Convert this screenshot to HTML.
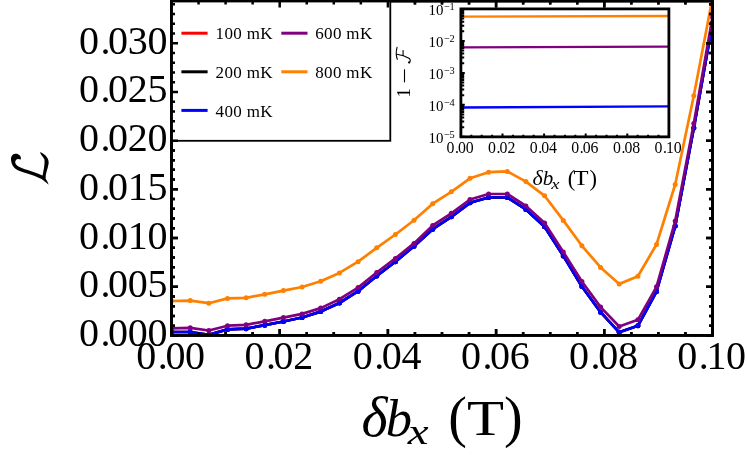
<!DOCTYPE html>
<html><head><meta charset="utf-8"><title>chart</title>
<style>
html,body{margin:0;padding:0;background:#fff;}
body{width:747px;height:459px;overflow:hidden;position:relative;font-family:"Liberation Serif",serif;}
.s{font-family:"Liberation Serif",serif;fill:#000;}
</style></head><body>
<svg width="747" height="459" viewBox="0 0 747 459" style="position:absolute;left:0;top:0;will-change:transform">
<defs><clipPath id="cp"><rect x="171.5" y="1.0" width="541.0" height="334.4"/></clipPath></defs>
<g clip-path="url(#cp)">
<polyline points="171.5,332.0 190.2,332.0 208.8,334.8 227.5,329.4 246.1,328.7 264.8,325.2 283.4,321.5 302.1,317.5 320.7,311.6 339.4,303.0 358.1,291.2 376.7,276.0 395.4,261.7 414.0,246.2 432.7,229.2 451.3,216.8 470.0,202.8 488.6,197.5 507.3,197.5 525.9,209.4 544.6,226.7 563.3,255.9 581.9,286.5 600.6,312.2 619.2,332.3 637.9,325.8 656.5,291.5 675.2,226.1 693.8,128.0 712.5,23.0" fill="none" stroke="#ff0000" stroke-width="2.7" stroke-linejoin="round"/><circle cx="171.5" cy="332.0" r="2.5" fill="#ff0000"/><circle cx="190.2" cy="332.0" r="2.5" fill="#ff0000"/><circle cx="208.8" cy="334.8" r="2.5" fill="#ff0000"/><circle cx="227.5" cy="329.4" r="2.5" fill="#ff0000"/><circle cx="246.1" cy="328.7" r="2.5" fill="#ff0000"/><circle cx="264.8" cy="325.2" r="2.5" fill="#ff0000"/><circle cx="283.4" cy="321.5" r="2.5" fill="#ff0000"/><circle cx="302.1" cy="317.5" r="2.5" fill="#ff0000"/><circle cx="320.7" cy="311.6" r="2.5" fill="#ff0000"/><circle cx="339.4" cy="303.0" r="2.5" fill="#ff0000"/><circle cx="358.1" cy="291.2" r="2.5" fill="#ff0000"/><circle cx="376.7" cy="276.0" r="2.5" fill="#ff0000"/><circle cx="395.4" cy="261.7" r="2.5" fill="#ff0000"/><circle cx="414.0" cy="246.2" r="2.5" fill="#ff0000"/><circle cx="432.7" cy="229.2" r="2.5" fill="#ff0000"/><circle cx="451.3" cy="216.8" r="2.5" fill="#ff0000"/><circle cx="470.0" cy="202.8" r="2.5" fill="#ff0000"/><circle cx="488.6" cy="197.5" r="2.5" fill="#ff0000"/><circle cx="507.3" cy="197.5" r="2.5" fill="#ff0000"/><circle cx="525.9" cy="209.4" r="2.5" fill="#ff0000"/><circle cx="544.6" cy="226.7" r="2.5" fill="#ff0000"/><circle cx="563.3" cy="255.9" r="2.5" fill="#ff0000"/><circle cx="581.9" cy="286.5" r="2.5" fill="#ff0000"/><circle cx="600.6" cy="312.2" r="2.5" fill="#ff0000"/><circle cx="619.2" cy="332.3" r="2.5" fill="#ff0000"/><circle cx="637.9" cy="325.8" r="2.5" fill="#ff0000"/><circle cx="656.5" cy="291.5" r="2.5" fill="#ff0000"/><circle cx="675.2" cy="226.1" r="2.5" fill="#ff0000"/><circle cx="693.8" cy="128.0" r="2.5" fill="#ff0000"/><circle cx="712.5" cy="23.0" r="2.5" fill="#ff0000"/>
<polyline points="171.5,332.0 190.2,332.0 208.8,334.8 227.5,329.4 246.1,328.7 264.8,325.2 283.4,321.5 302.1,317.5 320.7,311.6 339.4,303.0 358.1,291.2 376.7,276.0 395.4,261.7 414.0,246.2 432.7,229.2 451.3,216.8 470.0,202.8 488.6,197.5 507.3,197.5 525.9,209.4 544.6,226.7 563.3,255.9 581.9,286.5 600.6,312.2 619.2,332.3 637.9,325.8 656.5,291.5 675.2,226.1 693.8,128.0 712.5,23.0" fill="none" stroke="#000000" stroke-width="2.7" stroke-linejoin="round"/><circle cx="171.5" cy="332.0" r="2.5" fill="#000000"/><circle cx="190.2" cy="332.0" r="2.5" fill="#000000"/><circle cx="208.8" cy="334.8" r="2.5" fill="#000000"/><circle cx="227.5" cy="329.4" r="2.5" fill="#000000"/><circle cx="246.1" cy="328.7" r="2.5" fill="#000000"/><circle cx="264.8" cy="325.2" r="2.5" fill="#000000"/><circle cx="283.4" cy="321.5" r="2.5" fill="#000000"/><circle cx="302.1" cy="317.5" r="2.5" fill="#000000"/><circle cx="320.7" cy="311.6" r="2.5" fill="#000000"/><circle cx="339.4" cy="303.0" r="2.5" fill="#000000"/><circle cx="358.1" cy="291.2" r="2.5" fill="#000000"/><circle cx="376.7" cy="276.0" r="2.5" fill="#000000"/><circle cx="395.4" cy="261.7" r="2.5" fill="#000000"/><circle cx="414.0" cy="246.2" r="2.5" fill="#000000"/><circle cx="432.7" cy="229.2" r="2.5" fill="#000000"/><circle cx="451.3" cy="216.8" r="2.5" fill="#000000"/><circle cx="470.0" cy="202.8" r="2.5" fill="#000000"/><circle cx="488.6" cy="197.5" r="2.5" fill="#000000"/><circle cx="507.3" cy="197.5" r="2.5" fill="#000000"/><circle cx="525.9" cy="209.4" r="2.5" fill="#000000"/><circle cx="544.6" cy="226.7" r="2.5" fill="#000000"/><circle cx="563.3" cy="255.9" r="2.5" fill="#000000"/><circle cx="581.9" cy="286.5" r="2.5" fill="#000000"/><circle cx="600.6" cy="312.2" r="2.5" fill="#000000"/><circle cx="619.2" cy="332.3" r="2.5" fill="#000000"/><circle cx="637.9" cy="325.8" r="2.5" fill="#000000"/><circle cx="656.5" cy="291.5" r="2.5" fill="#000000"/><circle cx="675.2" cy="226.1" r="2.5" fill="#000000"/><circle cx="693.8" cy="128.0" r="2.5" fill="#000000"/><circle cx="712.5" cy="23.0" r="2.5" fill="#000000"/>
<polyline points="171.5,332.0 190.2,332.0 208.8,334.8 227.5,329.4 246.1,328.7 264.8,325.2 283.4,321.5 302.1,317.5 320.7,311.6 339.4,303.0 358.1,291.2 376.7,276.0 395.4,261.7 414.0,246.2 432.7,229.2 451.3,216.8 470.0,202.8 488.6,197.5 507.3,197.5 525.9,209.4 544.6,226.7 563.3,255.9 581.9,286.5 600.6,312.2 619.2,332.3 637.9,325.8 656.5,291.5 675.2,226.1 693.8,128.0 712.5,23.0" fill="none" stroke="#0000ff" stroke-width="2.7" stroke-linejoin="round"/><circle cx="171.5" cy="332.0" r="2.5" fill="#0000ff"/><circle cx="190.2" cy="332.0" r="2.5" fill="#0000ff"/><circle cx="208.8" cy="334.8" r="2.5" fill="#0000ff"/><circle cx="227.5" cy="329.4" r="2.5" fill="#0000ff"/><circle cx="246.1" cy="328.7" r="2.5" fill="#0000ff"/><circle cx="264.8" cy="325.2" r="2.5" fill="#0000ff"/><circle cx="283.4" cy="321.5" r="2.5" fill="#0000ff"/><circle cx="302.1" cy="317.5" r="2.5" fill="#0000ff"/><circle cx="320.7" cy="311.6" r="2.5" fill="#0000ff"/><circle cx="339.4" cy="303.0" r="2.5" fill="#0000ff"/><circle cx="358.1" cy="291.2" r="2.5" fill="#0000ff"/><circle cx="376.7" cy="276.0" r="2.5" fill="#0000ff"/><circle cx="395.4" cy="261.7" r="2.5" fill="#0000ff"/><circle cx="414.0" cy="246.2" r="2.5" fill="#0000ff"/><circle cx="432.7" cy="229.2" r="2.5" fill="#0000ff"/><circle cx="451.3" cy="216.8" r="2.5" fill="#0000ff"/><circle cx="470.0" cy="202.8" r="2.5" fill="#0000ff"/><circle cx="488.6" cy="197.5" r="2.5" fill="#0000ff"/><circle cx="507.3" cy="197.5" r="2.5" fill="#0000ff"/><circle cx="525.9" cy="209.4" r="2.5" fill="#0000ff"/><circle cx="544.6" cy="226.7" r="2.5" fill="#0000ff"/><circle cx="563.3" cy="255.9" r="2.5" fill="#0000ff"/><circle cx="581.9" cy="286.5" r="2.5" fill="#0000ff"/><circle cx="600.6" cy="312.2" r="2.5" fill="#0000ff"/><circle cx="619.2" cy="332.3" r="2.5" fill="#0000ff"/><circle cx="637.9" cy="325.8" r="2.5" fill="#0000ff"/><circle cx="656.5" cy="291.5" r="2.5" fill="#0000ff"/><circle cx="675.2" cy="226.1" r="2.5" fill="#0000ff"/><circle cx="693.8" cy="128.0" r="2.5" fill="#0000ff"/><circle cx="712.5" cy="23.0" r="2.5" fill="#0000ff"/>
<polyline points="171.5,328.3 190.2,327.8 208.8,330.5 227.5,325.7 246.1,324.8 264.8,321.3 283.4,317.6 302.1,313.9 320.7,308.1 339.4,299.2 358.1,287.6 376.7,272.5 395.4,258.4 414.0,243.4 432.7,225.5 451.3,213.3 470.0,199.5 488.6,194.0 507.3,194.0 525.9,206.0 544.6,223.0 563.3,252.0 581.9,281.5 600.6,307.1 619.2,326.5 637.9,319.8 656.5,286.8 675.2,221.1 693.8,123.6 712.5,17.0" fill="none" stroke="#800080" stroke-width="2.7" stroke-linejoin="round"/><circle cx="171.5" cy="328.3" r="2.5" fill="#800080"/><circle cx="190.2" cy="327.8" r="2.5" fill="#800080"/><circle cx="208.8" cy="330.5" r="2.5" fill="#800080"/><circle cx="227.5" cy="325.7" r="2.5" fill="#800080"/><circle cx="246.1" cy="324.8" r="2.5" fill="#800080"/><circle cx="264.8" cy="321.3" r="2.5" fill="#800080"/><circle cx="283.4" cy="317.6" r="2.5" fill="#800080"/><circle cx="302.1" cy="313.9" r="2.5" fill="#800080"/><circle cx="320.7" cy="308.1" r="2.5" fill="#800080"/><circle cx="339.4" cy="299.2" r="2.5" fill="#800080"/><circle cx="358.1" cy="287.6" r="2.5" fill="#800080"/><circle cx="376.7" cy="272.5" r="2.5" fill="#800080"/><circle cx="395.4" cy="258.4" r="2.5" fill="#800080"/><circle cx="414.0" cy="243.4" r="2.5" fill="#800080"/><circle cx="432.7" cy="225.5" r="2.5" fill="#800080"/><circle cx="451.3" cy="213.3" r="2.5" fill="#800080"/><circle cx="470.0" cy="199.5" r="2.5" fill="#800080"/><circle cx="488.6" cy="194.0" r="2.5" fill="#800080"/><circle cx="507.3" cy="194.0" r="2.5" fill="#800080"/><circle cx="525.9" cy="206.0" r="2.5" fill="#800080"/><circle cx="544.6" cy="223.0" r="2.5" fill="#800080"/><circle cx="563.3" cy="252.0" r="2.5" fill="#800080"/><circle cx="581.9" cy="281.5" r="2.5" fill="#800080"/><circle cx="600.6" cy="307.1" r="2.5" fill="#800080"/><circle cx="619.2" cy="326.5" r="2.5" fill="#800080"/><circle cx="637.9" cy="319.8" r="2.5" fill="#800080"/><circle cx="656.5" cy="286.8" r="2.5" fill="#800080"/><circle cx="675.2" cy="221.1" r="2.5" fill="#800080"/><circle cx="693.8" cy="123.6" r="2.5" fill="#800080"/><circle cx="712.5" cy="17.0" r="2.5" fill="#800080"/>
<polyline points="171.5,301.0 190.2,300.6 208.8,303.2 227.5,298.4 246.1,297.8 264.8,294.3 283.4,290.6 302.1,287.0 320.7,281.3 339.4,272.9 358.1,261.7 376.7,247.8 395.4,234.5 414.0,220.3 432.7,203.7 451.3,191.8 470.0,178.3 488.6,172.2 507.3,171.4 525.9,181.6 544.6,195.8 563.3,220.4 581.9,245.8 600.6,267.4 619.2,284.1 637.9,276.2 656.5,244.5 675.2,184.5 693.8,95.7 712.5,-2.0" fill="none" stroke="#ff8000" stroke-width="2.7" stroke-linejoin="round"/><circle cx="171.5" cy="301.0" r="2.5" fill="#ff8000"/><circle cx="190.2" cy="300.6" r="2.5" fill="#ff8000"/><circle cx="208.8" cy="303.2" r="2.5" fill="#ff8000"/><circle cx="227.5" cy="298.4" r="2.5" fill="#ff8000"/><circle cx="246.1" cy="297.8" r="2.5" fill="#ff8000"/><circle cx="264.8" cy="294.3" r="2.5" fill="#ff8000"/><circle cx="283.4" cy="290.6" r="2.5" fill="#ff8000"/><circle cx="302.1" cy="287.0" r="2.5" fill="#ff8000"/><circle cx="320.7" cy="281.3" r="2.5" fill="#ff8000"/><circle cx="339.4" cy="272.9" r="2.5" fill="#ff8000"/><circle cx="358.1" cy="261.7" r="2.5" fill="#ff8000"/><circle cx="376.7" cy="247.8" r="2.5" fill="#ff8000"/><circle cx="395.4" cy="234.5" r="2.5" fill="#ff8000"/><circle cx="414.0" cy="220.3" r="2.5" fill="#ff8000"/><circle cx="432.7" cy="203.7" r="2.5" fill="#ff8000"/><circle cx="451.3" cy="191.8" r="2.5" fill="#ff8000"/><circle cx="470.0" cy="178.3" r="2.5" fill="#ff8000"/><circle cx="488.6" cy="172.2" r="2.5" fill="#ff8000"/><circle cx="507.3" cy="171.4" r="2.5" fill="#ff8000"/><circle cx="525.9" cy="181.6" r="2.5" fill="#ff8000"/><circle cx="544.6" cy="195.8" r="2.5" fill="#ff8000"/><circle cx="563.3" cy="220.4" r="2.5" fill="#ff8000"/><circle cx="581.9" cy="245.8" r="2.5" fill="#ff8000"/><circle cx="600.6" cy="267.4" r="2.5" fill="#ff8000"/><circle cx="619.2" cy="284.1" r="2.5" fill="#ff8000"/><circle cx="637.9" cy="276.2" r="2.5" fill="#ff8000"/><circle cx="656.5" cy="244.5" r="2.5" fill="#ff8000"/><circle cx="675.2" cy="184.5" r="2.5" fill="#ff8000"/><circle cx="693.8" cy="95.7" r="2.5" fill="#ff8000"/><circle cx="712.5" cy="-2.0" r="2.5" fill="#ff8000"/>
</g>
<path d="M171.5 335.40h6.5 M712.5 335.40h-6.5 M171.5 325.66h3.5 M712.5 325.66h-3.5 M171.5 315.93h3.5 M712.5 315.93h-3.5 M171.5 306.19h3.5 M712.5 306.19h-3.5 M171.5 296.45h3.5 M712.5 296.45h-3.5 M171.5 286.71h6.5 M712.5 286.71h-6.5 M171.5 276.98h3.5 M712.5 276.98h-3.5 M171.5 267.24h3.5 M712.5 267.24h-3.5 M171.5 257.50h3.5 M712.5 257.50h-3.5 M171.5 247.77h3.5 M712.5 247.77h-3.5 M171.5 238.03h6.5 M712.5 238.03h-6.5 M171.5 228.29h3.5 M712.5 228.29h-3.5 M171.5 218.56h3.5 M712.5 218.56h-3.5 M171.5 208.82h3.5 M712.5 208.82h-3.5 M171.5 199.08h3.5 M712.5 199.08h-3.5 M171.5 189.34h6.5 M712.5 189.34h-6.5 M171.5 179.61h3.5 M712.5 179.61h-3.5 M171.5 169.87h3.5 M712.5 169.87h-3.5 M171.5 160.13h3.5 M712.5 160.13h-3.5 M171.5 150.40h3.5 M712.5 150.40h-3.5 M171.5 140.66h6.5 M712.5 140.66h-6.5 M171.5 130.92h3.5 M712.5 130.92h-3.5 M171.5 121.19h3.5 M712.5 121.19h-3.5 M171.5 111.45h3.5 M712.5 111.45h-3.5 M171.5 101.71h3.5 M712.5 101.71h-3.5 M171.5 91.97h6.5 M712.5 91.97h-6.5 M171.5 82.24h3.5 M712.5 82.24h-3.5 M171.5 72.50h3.5 M712.5 72.50h-3.5 M171.5 62.76h3.5 M712.5 62.76h-3.5 M171.5 53.03h3.5 M712.5 53.03h-3.5 M171.5 43.29h6.5 M712.5 43.29h-6.5 M171.5 33.55h3.5 M712.5 33.55h-3.5 M171.5 23.82h3.5 M712.5 23.82h-3.5 M171.5 14.08h3.5 M712.5 14.08h-3.5 M171.5 4.34h3.5 M712.5 4.34h-3.5 M171.50 335.4v-6.5 M171.50 1.0v6.5 M198.55 335.4v-3.5 M198.55 1.0v3.5 M225.60 335.4v-3.5 M225.60 1.0v3.5 M252.65 335.4v-3.5 M252.65 1.0v3.5 M279.70 335.4v-6.5 M279.70 1.0v6.5 M306.75 335.4v-3.5 M306.75 1.0v3.5 M333.80 335.4v-3.5 M333.80 1.0v3.5 M360.85 335.4v-3.5 M360.85 1.0v3.5 M387.90 335.4v-6.5 M387.90 1.0v6.5 M414.95 335.4v-3.5 M414.95 1.0v3.5 M442.00 335.4v-3.5 M442.00 1.0v3.5 M469.05 335.4v-3.5 M469.05 1.0v3.5 M496.10 335.4v-6.5 M496.10 1.0v6.5 M523.15 335.4v-3.5 M523.15 1.0v3.5 M550.20 335.4v-3.5 M550.20 1.0v3.5 M577.25 335.4v-3.5 M577.25 1.0v3.5 M604.30 335.4v-6.5 M604.30 1.0v6.5 M631.35 335.4v-3.5 M631.35 1.0v3.5 M658.40 335.4v-3.5 M658.40 1.0v3.5 M685.45 335.4v-3.5 M685.45 1.0v3.5 M712.50 335.4v-6.5 M712.50 1.0v6.5" stroke="#000" stroke-width="2.5" fill="none"/>
<rect x="171.5" y="1.0" width="541.0" height="334.4" fill="none" stroke="#000" stroke-width="2.8"/>
<text transform="translate(78.90,345.90) scale(1.0,1)" x="0.00 21.50 29.10 48.80 68.50" y="0" font-size="40" class="s">0.000</text>
<text transform="translate(78.90,297.21) scale(1.0,1)" x="0.00 21.50 29.10 48.80 68.50" y="0" font-size="40" class="s">0.005</text>
<text transform="translate(78.90,248.53) scale(1.0,1)" x="0.00 21.50 29.10 48.80 68.50" y="0" font-size="40" class="s">0.010</text>
<text transform="translate(78.90,199.84) scale(1.0,1)" x="0.00 21.50 29.10 48.80 68.50" y="0" font-size="40" class="s">0.015</text>
<text transform="translate(78.90,151.16) scale(1.0,1)" x="0.00 21.50 29.10 48.80 68.50" y="0" font-size="40" class="s">0.020</text>
<text transform="translate(78.90,102.47) scale(1.0,1)" x="0.00 21.50 29.10 48.80 68.50" y="0" font-size="40" class="s">0.025</text>
<text transform="translate(78.90,53.79) scale(1.0,1)" x="0.00 21.50 29.10 48.80 68.50" y="0" font-size="40" class="s">0.030</text>
<text transform="translate(136.30,369.30) scale(1.0,1)" x="0.00 21.50 29.10 48.80" y="0" font-size="40" class="s">0.00</text>
<text transform="translate(244.50,369.30) scale(1.0,1)" x="0.00 21.50 29.10 48.80" y="0" font-size="40" class="s">0.02</text>
<text transform="translate(352.70,369.30) scale(1.0,1)" x="0.00 21.50 29.10 48.80" y="0" font-size="40" class="s">0.04</text>
<text transform="translate(460.90,369.30) scale(1.0,1)" x="0.00 21.50 29.10 48.80" y="0" font-size="40" class="s">0.06</text>
<text transform="translate(569.10,369.30) scale(1.0,1)" x="0.00 21.50 29.10 48.80" y="0" font-size="40" class="s">0.08</text>
<text transform="translate(677.30,369.30) scale(1.0,1)" x="0.00 21.50 29.10 48.80" y="0" font-size="40" class="s">0.10</text>
<rect x="171.5" y="1.0" width="218.8" height="139.8" fill="#fff" stroke="#000" stroke-width="1.8"/>
<line x1="181.4" y1="33.2" x2="207.6" y2="33.2" stroke="#ff0000" stroke-width="3"/>
<text x="215.6" y="39.4" font-size="17" class="s" textLength="57" lengthAdjust="spacing">100 mK</text>
<line x1="181.4" y1="71.80000000000001" x2="207.6" y2="71.80000000000001" stroke="#000" stroke-width="3"/>
<text x="215.6" y="78.0" font-size="17" class="s" textLength="57" lengthAdjust="spacing">200 mK</text>
<line x1="181.4" y1="110.4" x2="207.6" y2="110.4" stroke="#0000ff" stroke-width="3"/>
<text x="215.6" y="116.6" font-size="17" class="s" textLength="57" lengthAdjust="spacing">400 mK</text>
<line x1="281.3" y1="33.2" x2="307.5" y2="33.2" stroke="#800080" stroke-width="3"/>
<text x="315.2" y="39.4" font-size="17" class="s" textLength="57" lengthAdjust="spacing">600 mK</text>
<line x1="281.3" y1="71.80000000000001" x2="307.5" y2="71.80000000000001" stroke="#ff8000" stroke-width="3"/>
<text x="315.2" y="78.0" font-size="17" class="s" textLength="57" lengthAdjust="spacing">800 mK</text>
<path d="M171.5 335.40h6.5 M712.5 335.40h-6.5 M171.5 325.66h3.5 M712.5 325.66h-3.5 M171.5 315.93h3.5 M712.5 315.93h-3.5 M171.5 306.19h3.5 M712.5 306.19h-3.5 M171.5 296.45h3.5 M712.5 296.45h-3.5 M171.5 286.71h6.5 M712.5 286.71h-6.5 M171.5 276.98h3.5 M712.5 276.98h-3.5 M171.5 267.24h3.5 M712.5 267.24h-3.5 M171.5 257.50h3.5 M712.5 257.50h-3.5 M171.5 247.77h3.5 M712.5 247.77h-3.5 M171.5 238.03h6.5 M712.5 238.03h-6.5 M171.5 228.29h3.5 M712.5 228.29h-3.5 M171.5 218.56h3.5 M712.5 218.56h-3.5 M171.5 208.82h3.5 M712.5 208.82h-3.5 M171.5 199.08h3.5 M712.5 199.08h-3.5 M171.5 189.34h6.5 M712.5 189.34h-6.5 M171.5 179.61h3.5 M712.5 179.61h-3.5 M171.5 169.87h3.5 M712.5 169.87h-3.5 M171.5 160.13h3.5 M712.5 160.13h-3.5 M171.5 150.40h3.5 M712.5 150.40h-3.5 M171.5 140.66h6.5 M712.5 140.66h-6.5 M171.5 130.92h3.5 M712.5 130.92h-3.5 M171.5 121.19h3.5 M712.5 121.19h-3.5 M171.5 111.45h3.5 M712.5 111.45h-3.5 M171.5 101.71h3.5 M712.5 101.71h-3.5 M171.5 91.97h6.5 M712.5 91.97h-6.5 M171.5 82.24h3.5 M712.5 82.24h-3.5 M171.5 72.50h3.5 M712.5 72.50h-3.5 M171.5 62.76h3.5 M712.5 62.76h-3.5 M171.5 53.03h3.5 M712.5 53.03h-3.5 M171.5 43.29h6.5 M712.5 43.29h-6.5 M171.5 33.55h3.5 M712.5 33.55h-3.5 M171.5 23.82h3.5 M712.5 23.82h-3.5 M171.5 14.08h3.5 M712.5 14.08h-3.5 M171.5 4.34h3.5 M712.5 4.34h-3.5 M171.50 335.4v-6.5 M171.50 1.0v6.5 M198.55 335.4v-3.5 M198.55 1.0v3.5 M225.60 335.4v-3.5 M225.60 1.0v3.5 M252.65 335.4v-3.5 M252.65 1.0v3.5 M279.70 335.4v-6.5 M279.70 1.0v6.5 M306.75 335.4v-3.5 M306.75 1.0v3.5 M333.80 335.4v-3.5 M333.80 1.0v3.5 M360.85 335.4v-3.5 M360.85 1.0v3.5 M387.90 335.4v-6.5 M387.90 1.0v6.5 M414.95 335.4v-3.5 M414.95 1.0v3.5 M442.00 335.4v-3.5 M442.00 1.0v3.5 M469.05 335.4v-3.5 M469.05 1.0v3.5 M496.10 335.4v-6.5 M496.10 1.0v6.5 M523.15 335.4v-3.5 M523.15 1.0v3.5 M550.20 335.4v-3.5 M550.20 1.0v3.5 M577.25 335.4v-3.5 M577.25 1.0v3.5 M604.30 335.4v-6.5 M604.30 1.0v6.5 M631.35 335.4v-3.5 M631.35 1.0v3.5 M658.40 335.4v-3.5 M658.40 1.0v3.5 M685.45 335.4v-3.5 M685.45 1.0v3.5 M712.50 335.4v-6.5 M712.50 1.0v6.5" stroke="#000" stroke-width="2.5" fill="none"/>
<rect x="171.5" y="1.0" width="541.0" height="334.4" fill="none" stroke="#000" stroke-width="2.8"/>
<rect x="460.9" y="8.9" width="208.0" height="127.94999999999999" fill="#fff" stroke="none"/>
<line x1="460.9" y1="16.6" x2="668.9" y2="16.0" stroke="#ff8000" stroke-width="2.4"/>
<line x1="460.9" y1="47.4" x2="668.9" y2="46.6" stroke="#800080" stroke-width="2.4"/>
<line x1="460.9" y1="107.5" x2="668.9" y2="106.4" stroke="#0000ff" stroke-width="2.4"/>
<path d="M460.9 40.89h3.9 M460.9 31.26h3.3 M460.9 25.63h3.3 M460.9 21.63h3.3 M460.9 18.53h3.3 M460.9 16.00h3.3 M460.9 13.85h3.3 M460.9 12.00h3.3 M460.9 10.36h3.3 M460.9 72.88h3.9 M460.9 63.25h3.3 M460.9 57.61h3.3 M460.9 53.62h3.3 M460.9 50.52h3.3 M460.9 47.98h3.3 M460.9 45.84h3.3 M460.9 43.99h3.3 M460.9 42.35h3.3 M460.9 104.86h3.9 M460.9 95.23h3.3 M460.9 89.60h3.3 M460.9 85.60h3.3 M460.9 82.50h3.3 M460.9 79.97h3.3 M460.9 77.83h3.3 M460.9 75.97h3.3 M460.9 74.34h3.3 M460.9 136.85h3.9 M460.9 127.22h3.3 M460.9 121.59h3.3 M460.9 117.59h3.3 M460.9 114.49h3.3 M460.9 111.96h3.3 M460.9 109.82h3.3 M460.9 107.96h3.3 M460.9 106.33h3.3 M460.90 136.85v-3.3 M471.30 136.85v-2.2 M481.70 136.85v-2.2 M492.10 136.85v-2.2 M502.50 136.85v-3.3 M512.90 136.85v-2.2 M523.30 136.85v-2.2 M533.70 136.85v-2.2 M544.10 136.85v-3.3 M554.50 136.85v-2.2 M564.90 136.85v-2.2 M575.30 136.85v-2.2 M585.70 136.85v-3.3 M596.10 136.85v-2.2 M606.50 136.85v-2.2 M616.90 136.85v-2.2 M627.30 136.85v-3.3 M637.70 136.85v-2.2 M648.10 136.85v-2.2 M658.50 136.85v-2.2 M668.90 136.85v-3.3" stroke="#000" stroke-width="2.0" fill="none"/>
<rect x="460.9" y="8.9" width="208.0" height="127.94999999999999" fill="none" stroke="#000" stroke-width="2.8"/>
<text transform="translate(428.6,15.3) scale(0.96,1)" font-size="15.5" class="s">10<tspan dy="-5.5" dx="0.3" font-size="10.8">−1</tspan></text>
<text transform="translate(428.6,47.3) scale(0.96,1)" font-size="15.5" class="s">10<tspan dy="-5.5" dx="0.3" font-size="10.8">−2</tspan></text>
<text transform="translate(428.6,79.3) scale(0.96,1)" font-size="15.5" class="s">10<tspan dy="-5.5" dx="0.3" font-size="10.8">−3</tspan></text>
<text transform="translate(428.6,111.3) scale(0.96,1)" font-size="15.5" class="s">10<tspan dy="-5.5" dx="0.3" font-size="10.8">−4</tspan></text>
<text transform="translate(428.6,143.2) scale(0.96,1)" font-size="15.5" class="s">10<tspan dy="-5.5" dx="0.3" font-size="10.8">−5</tspan></text>
<text transform="translate(446.50,153.20) scale(1.0,1)" x="0.00 8.51 11.52 19.32" y="0" font-size="15.8" class="s">0.00</text>
<text transform="translate(488.10,153.20) scale(1.0,1)" x="0.00 8.51 11.52 19.32" y="0" font-size="15.8" class="s">0.02</text>
<text transform="translate(529.70,153.20) scale(1.0,1)" x="0.00 8.51 11.52 19.32" y="0" font-size="15.8" class="s">0.04</text>
<text transform="translate(571.30,153.20) scale(1.0,1)" x="0.00 8.51 11.52 19.32" y="0" font-size="15.8" class="s">0.06</text>
<text transform="translate(612.90,153.20) scale(1.0,1)" x="0.00 8.51 11.52 19.32" y="0" font-size="15.8" class="s">0.08</text>
<text transform="translate(654.50,153.20) scale(1.0,1)" x="0.00 8.51 11.52 19.32" y="0" font-size="15.8" class="s">0.10</text>
<text transform="translate(532.50,184.50) scale(1.0,1)" font-size="22" class="s" font-style="italic">δ</text>
<text transform="translate(542.70,184.50) scale(1.0,1)" font-size="21" class="s" font-style="italic">b</text>
<text transform="translate(551.20,189.00) scale(1.28,1)" font-size="14.5" class="s" font-style="italic">x</text>
<text transform="translate(567.80,185.70) scale(1.0,1)" font-size="22.5" class="s">(</text>
<text transform="translate(573.60,184.70) scale(1.2,1)" font-size="20.5" class="s">T</text>
<text transform="translate(589.40,185.70) scale(1.0,1)" font-size="22.5" class="s">)</text>
<text transform="translate(409.6,97.6) rotate(-90)" font-size="18.5" class="s">1</text>
<line x1="404.5" y1="69.3" x2="404.5" y2="82.4" stroke="#000" stroke-width="1.1"/>
<g transform="translate(390,40) scale(0.06536)" fill="none" stroke="#000" stroke-width="17" stroke-linecap="round"><path d="M108 112 C92 170 92 240 112 296"/><path d="M105 218 C170 228 240 250 290 280 C315 298 318 325 295 345"/><path d="M200 162 L200 238"/><circle cx="293" cy="343" r="8" fill="#000"/></g>
<text transform="translate(361.50,435.50) scale(1.0,1)" font-size="56" class="s" font-style="italic">δ</text>
<text transform="translate(385.80,435.50) scale(1.0,1)" font-size="52.5" class="s" font-style="italic">b</text>
<text transform="translate(407.80,444.00) scale(1.3,1)" font-size="36" class="s" font-style="italic">x</text>
<text transform="translate(448.30,436.00) scale(1.0,1)" font-size="56" class="s">(</text>
<text transform="translate(467.00,435.00) scale(1.2,1)" font-size="50.5" class="s">T</text>
<text transform="translate(504.00,436.00) scale(1.0,1)" font-size="56" class="s">)</text>
<path transform="translate(0,140) scale(0.13072)" d="M160 148 C163 122 142 104 118 106 C94 108 81 128 85 156 C89 195 112 222 150 237 C190 252 250 266 300 290 C325 298 345 318 372 343 C368 328 360 310 349 296 C346 260 366 220 372 180 C376 145 352 110 306 92 C310 112 330 128 340 150 C345 185 332 235 326 272 C300 260 250 243 205 228 C165 214 125 200 117 175 C114 160 125 146 138 146 C146 146 152 150 160 148 Z" fill="#000"/>
</svg>
</body></html>
